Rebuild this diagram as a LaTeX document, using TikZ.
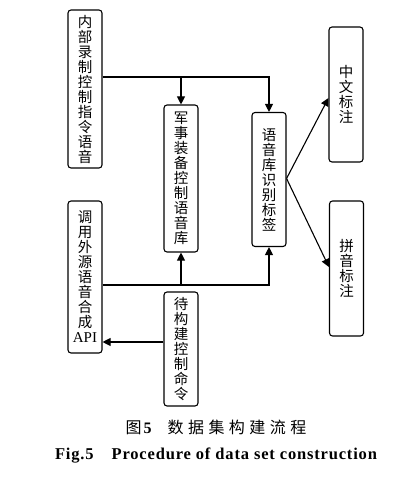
\documentclass[tikz,border=0pt]{standalone}
\usepackage{fontspec}
\setmainfont{Liberation Serif}
\newfontfamily\cjk{Noto Sans CJK SC}
\newfontfamily\cjkcap[LetterSpace=28]{Noto Sans CJK SC}
\newfontfamily\encap[LetterSpace=5]{Liberation Serif}
\usetikzlibrary{arrows.meta}
\tikzset{
  box/.style={draw, line width=1.1bp, rounded corners=3bp, minimum width=34bp,
    inner sep=0pt, align=center, font=\cjk\fontsize{14.5bp}{15bp}\selectfont},
  conn/.style={line width=1.1bp},
  arr/.style={conn, -{Triangle[length=8bp,width=8bp]}}
}
\begin{document}
\begin{tikzpicture}[x=1bp,y=-1bp]
\useasboundingbox (0,0) rectangle (418,482);
\node[box, minimum height=158bp] (A) at (85,89) {内\\部\\录\\制\\控\\制\\指\\令\\语\\音};
\node[box, minimum height=147bp] (B) at (181,178.5) {军\\事\\装\\备\\控\\制\\语\\音\\库};
\node[box, minimum height=134bp] (C) at (269,179.5) {语\\音\\库\\识\\别\\标\\签};
\node[box, minimum height=135bp] (D) at (346,94.5) {中\\文\\标\\注};
\node[box, minimum height=135bp] (E) at (346.5,268.5) {拼\\音\\标\\注};
\node[box, minimum height=152bp] (F) at (85,277) {调\\用\\外\\源\\语\\音\\合\\成\\{\rmfamily\fontsize{15bp}{15bp}\selectfont API}};
\node[box, minimum height=114bp] (G) at (181,349) {待\\构\\建\\控\\制\\命\\令};
% top junctions
\coordinate (j1) at (181,77);
\coordinate (j2) at (269,77);
\draw[arr] (A.east |- j1) -- (j2) -- (C.north);
\draw[arr] (j1) -- (B.north);
% bottom junctions
\coordinate (k1) at (181,285);
\coordinate (k2) at (269,285);
\draw[arr] (F.east |- k1) -- (k2) -- (C.south);
\draw[arr] (k1) -- (B.south);
% G to F
\coordinate (g1) at ([yshift=7bp]G.west);
\draw[arr] (g1) -- (g1 -| F.east);
% C to D and E
\coordinate (c1) at ([yshift=1bp]C.east);
\coordinate (d1) at ([yshift=-3.5bp]D.west);
\coordinate (e1) at ([yshift=1.5bp]E.west);
\draw[arr] (c1) -- (d1);
\draw[arr] (c1) -- (e1);
% captions
\node[font=\cjkcap\fontsize{16bp}{18bp}\selectfont, inner sep=0pt] (cap1) at (216,427) {图\hspace{2bp}{\encap\bfseries 5}\hspace{16bp}数据集构建流程};
\node[font=\encap\bfseries\fontsize{16.5bp}{18bp}\selectfont, inner sep=0pt] (cap2) at (216,456) {Fig.5\hspace{18bp}Procedure of data set construction};
\end{tikzpicture}
\end{document}
